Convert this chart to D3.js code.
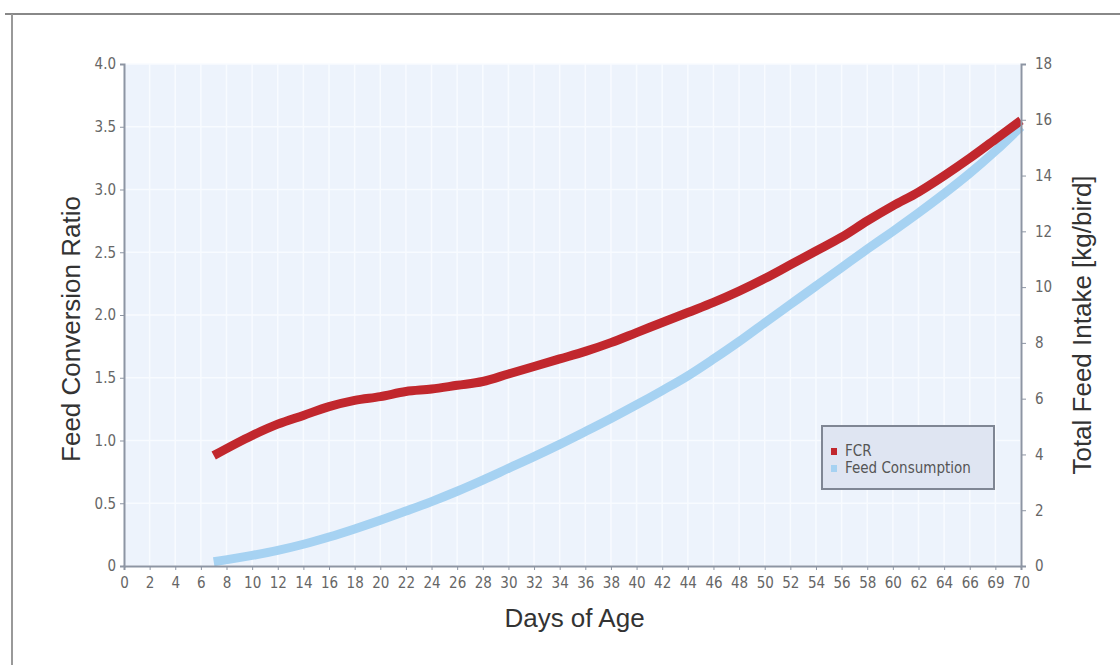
<!DOCTYPE html>
<html lang="en">
<head>
    <meta charset="UTF-8">
    <title>FCR and Feed Intake</title>
    <script src="https://d3js.org/d3.v7.min.js"></script>
    <style>
        body { margin: 0; background: #fff; }
        .tick text { font-family: "Liberation Sans Narrow", "DejaVu Sans Condensed", sans-serif; font-size: 15px; fill: #666; }
        .title { font-family: "Liberation Sans", Arial, sans-serif; font-size: 26px; fill: #333; }
    </style>
</head>
<body>
    <svg width="1120" height="665"></svg>

    <script>
        // Data
        const days = [7, 10, 12, 14, 16, 18, 20, 22, 24, 26, 28, 30, 32, 34, 36, 38, 40, 42, 44, 46, 48, 50, 52, 54, 56, 58, 60, 62, 64, 66, 68, 70];
        const fcr = [0.88, 1.04, 1.13, 1.20, 1.27, 1.32, 1.35, 1.39, 1.41, 1.44, 1.47, 1.53, 1.59, 1.65, 1.71, 1.78, 1.86, 1.94, 2.02, 2.10, 2.19, 2.29, 2.40, 2.51, 2.62, 2.75, 2.87, 2.98, 3.11, 3.25, 3.40, 3.55];
        const feed = [0.15, 0.38, 0.56, 0.78, 1.04, 1.33, 1.64, 1.97, 2.31, 2.68, 3.08, 3.50, 3.92, 4.36, 4.82, 5.29, 5.78, 6.29, 6.82, 7.42, 8.05, 8.72, 9.38, 10.04, 10.70, 11.36, 12.00, 12.66, 13.35, 14.08, 14.88, 15.75];

        const xTickValues = d3.range(0, 71, 2).concat([70]);
        const xTickLabels = d3.range(0, 67, 2).map(String).concat(["69", "70"]);
        const leftTicks = [0, 0.5, 1.0, 1.5, 2.0, 2.5, 3.0, 3.5, 4.0];
        const leftLabels = ["0", "0.5", "1.0", "1.5", "2.0", "2.5", "3.0", "3.5", "4.0"];
        const rightTicks = [0, 2, 4, 6, 8, 10, 12, 14, 16, 18];

        const seriesNames = ["FCR", "Feed Consumption"];
        const seriesColors = ["#c1272d", "#a6d2f2"];

        const margin = { top: 64, right: 99, bottom: 99, left: 124 };
        const width = 1120 - margin.left - margin.right;
        const height = 665 - margin.top - margin.bottom;

        const root = d3.select("svg");

        // outer frame (scanned page border)
        root.append("line").attr("x1", 5).attr("x2", 1120).attr("y1", 14).attr("y2", 14)
            .attr("stroke", "#888").attr("stroke-width", 2);
        root.append("line").attr("x1", 12).attr("x2", 12).attr("y1", 14).attr("y2", 665)
            .attr("stroke", "#999").attr("stroke-width", 2);

        const svg = root.append("g")
            .attr("transform", `translate(${margin.left},${margin.top})`);

        const x = d3.scaleLinear().domain([0, 70]).range([0, width]);
        const yL = d3.scaleLinear().domain([0, 4]).range([height, 0]);
        const yR = d3.scaleLinear().domain([0, 18]).range([height, 0]);

        // plot background
        svg.append("rect")
            .attr("width", width).attr("height", height)
            .attr("fill", "#edf3fc");

        // faint grid
        svg.append("g").selectAll("line")
            .data(xTickValues)
            .join("line")
            .attr("x1", d => x(d)).attr("x2", d => x(d))
            .attr("y1", 0).attr("y2", height)
            .attr("stroke", "#f8fbff").attr("stroke-width", 1.5);
        svg.append("g").selectAll("line")
            .data(leftTicks)
            .join("line")
            .attr("x1", 0).attr("x2", width)
            .attr("y1", d => yL(d)).attr("y2", d => yL(d))
            .attr("stroke", "#f8fbff").attr("stroke-width", 1.5);

        // lines
        const lineFcr = d3.line()
            .x((d, i) => x(days[i]))
            .y(d => yL(d))
            .curve(d3.curveMonotoneX);
        const lineFeed = d3.line()
            .x((d, i) => x(days[i]))
            .y(d => yR(d))
            .curve(d3.curveMonotoneX);

        svg.append("path")
            .datum(feed)
            .attr("fill", "none")
            .attr("stroke", seriesColors[1])
            .attr("stroke-width", 9)
            .attr("d", lineFeed);

        svg.append("path")
            .datum(fcr)
            .attr("fill", "none")
            .attr("stroke", seriesColors[0])
            .attr("stroke-width", 9)
            .attr("d", lineFcr);

        // axes
        const xAxis = svg.append("g")
            .attr("transform", `translate(0,${height})`)
            .call(d3.axisBottom(x)
                .tickValues(xTickValues)
                .tickFormat((d, i) => xTickLabels[i])
                .tickSize(4)
                .tickPadding(7));

        const leftAxis = svg.append("g")
            .call(d3.axisLeft(yL)
                .tickValues(leftTicks)
                .tickFormat((d, i) => leftLabels[i])
                .tickSize(4)
                .tickPadding(4));

        const rightAxis = svg.append("g")
            .attr("transform", `translate(${width},0)`)
            .call(d3.axisRight(yR)
                .tickValues(rightTicks)
                .tickSize(5)
                .tickPadding(9));

        [xAxis, leftAxis, rightAxis].forEach(g => {
            g.select(".domain").attr("stroke", "#8d95a3").attr("stroke-width", 2);
            g.selectAll(".tick line").attr("stroke", "#8d95a3");
        });

        // axis titles
        svg.append("text")
            .attr("class", "title")
            .attr("text-anchor", "middle")
            .attr("transform", `translate(-44,${height / 2 + 14}) rotate(-90)`)
            .text("Feed Conversion Ratio");

        svg.append("text")
            .attr("class", "title")
            .attr("text-anchor", "middle")
            .attr("transform", `translate(${width + 70},${height / 2 + 10}) rotate(-90)`)
            .text("Total Feed Intake [kg/bird]");

        svg.append("text")
            .attr("class", "title")
            .attr("text-anchor", "middle")
            .attr("x", x(35) + 2)
            .attr("y", height + 61)
            .text("Days of Age");

        // legend
        const legend = svg.append("g")
            .attr("transform", `translate(${822 - margin.left},${426 - margin.top})`);
        legend.append("rect")
            .attr("width", 172).attr("height", 63)
            .attr("fill", "#dfe5f2")
            .attr("stroke", "#7f8694").attr("stroke-width", 2);
        seriesNames.forEach((name, i) => {
            legend.append("rect")
                .attr("x", 9).attr("y", 22 + i * 17)
                .attr("width", 6).attr("height", 7)
                .attr("fill", seriesColors[i]);
            legend.append("text")
                .attr("x", 23).attr("y", 30 + i * 17)
                .style("font-family", "\"Liberation Sans Narrow\", \"DejaVu Sans Condensed\", sans-serif")
                .style("font-size", "15px")
                .attr("fill", "#555")
                .text(name);
        });
    </script>
</body>
</html>
